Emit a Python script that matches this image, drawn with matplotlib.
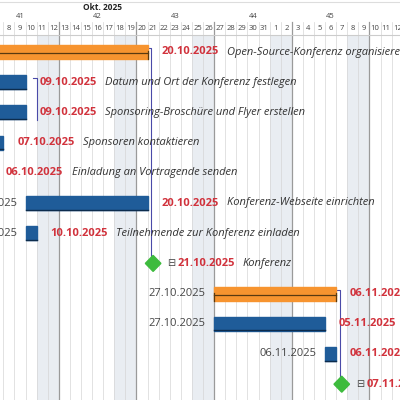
import matplotlib.pyplot as plt
from matplotlib.patches import Rectangle, Polygon
import datetime as dt

# task data (dates as strings, kind: summary / task / milestone)
names = ['Open-Source-Konferenz organisieren', 'Datum und Ort der Konferenz festlegen',
         'Sponsoring-Broschüre und Flyer erstellen', 'Sponsoren kontaktieren',
         'Einladung an Vortragende senden', 'Konferenz-Webseite einrichten',
         'Teilnehmende zur Konferenz einladen', 'Konferenz', '', '', '', '']
starts = ['2025-10-01', '2025-10-03', '2025-10-03', '2025-10-02', '2025-10-01', '2025-10-10',
          '2025-10-10', '2025-10-21', '2025-10-27', '2025-10-27', '2025-11-06', '2025-11-07']
ends = ['2025-10-20', '2025-10-09', '2025-10-09', '2025-10-07', '2025-10-06', '2025-10-20',
        '2025-10-10', '2025-10-21', '2025-11-06', '2025-11-05', '2025-11-06', '2025-11-07']
kinds = ['summary', 'task', 'task', 'task', 'task', 'task', 'task', 'milestone',
         'summary', 'task', 'task', 'milestone']
show_start = [False, False, False, False, False, True, True, False, True, True, True, False]
deps = [(0, 7), (8, 11)]

base = dt.date(2025, 10, 1)
def day(s):
    return (dt.date.fromisoformat(s) - base).days  # column [d, d+1)

def fmt(s):
    return dt.date.fromisoformat(s).strftime('%d.%m.%Y')

ORANGE = '#f7942f'
BLUE = '#1f5c99'
RED = '#d1323c'
GRAY = '#444444'
GREEN = '#3dbb3d'
DEP = '#4a4aa8'

fig = plt.figure(figsize=(4, 4), dpi=100)
ax = fig.add_axes([0, 0, 1, 1])
x0, x1 = 6.7, 42.75
ax.set_xlim(x0, x1)
ax.set_ylim(400, 0)
ax.axis('off')

# grid columns
for d in range(6, 43):
    date = base + dt.timedelta(days=d)
    if date.weekday() >= 5:
        ax.add_patch(Rectangle((d, 35), 1, 365, color='#e9edf2', lw=0, zorder=0))
    lw, col = (0.9, '#9a9a9a') if date.weekday() == 0 else (0.5, '#d6d6d6')
    ax.plot([d, d], [22, 400], color=col, lw=lw, zorder=1)
    ax.text(d + 0.5, 29, str(date.day), ha='center', va='center', fontsize=5.5,
            color=GRAY, family='Open Sans')
    if date.weekday() == 3:
        ax.text(d + 0.5, 17, str(date.isocalendar()[1]), ha='center', va='center',
                fontsize=5.5, color=GRAY, family='Open Sans')
ax.plot([x0, x1], [35, 35], color='#cccccc', lw=0.8)
ax.plot([x0, x1], [2, 2], color='#dddddd', lw=0.8)
ax.text(15.9, 7, 'Okt. 2025', ha='center', va='center', fontsize=6, weight='bold',
        color='#222222', family='Open Sans')

def rowy(i):
    return 52 + 30.2 * i

for i in range(len(names)):
    y = rowy(i)
    s, e = day(starts[i]), day(ends[i]) + 1
    if kinds[i] == 'milestone':
        m = day(starts[i]) + 0.5
        ax.add_patch(Polygon([(m - 0.7, y), (m, y - 8), (m + 0.7, y), (m, y + 8)],
                             closed=True, color=GREEN, zorder=4))
        xr = m + 1.3
        ax.text(xr, y, '⊟', ha='left', va='center', fontsize=7, color=GRAY, family='DejaVu Sans')
        xr += 0.9
    else:
        if kinds[i] == 'summary':
            ax.add_patch(Rectangle((s, y - 7), e - s, 14, color=ORANGE, zorder=3))
            ax.plot([s, e], [y + 1, y + 1], color='#5a3a10', lw=0.9, zorder=4)
            ax.plot([e, e], [y - 1, y + 7], color='#5a3a10', lw=0.9, zorder=4)
            ax.plot([s, s], [y - 1, y + 7], color='#5a3a10', lw=0.9, zorder=4)
        else:
            ax.add_patch(Rectangle((s, y - 7), e - s, 14, color=BLUE, zorder=3))
            ax.plot([s, e], [y + 6.5, y + 6.5], color='#0d2c4d', lw=1, zorder=4)
        xr = e + 1.25
        if show_start[i]:
            ax.text(s - 0.8, y, fmt(starts[i]), ha='right', va='center', fontsize=8,
                    color=GRAY, family='Open Sans')
    ax.text(xr, y, fmt(ends[i]), ha='left', va='center', fontsize=8, weight='bold',
            color=RED, family='Open Sans')
    ax.text(xr + 5.9, y, names[i], ha='left', va='center', fontsize=8, style='italic',
            color='#333333', family='Open Sans')

# dependency connectors
for a, b in deps:
    xe = day(ends[a]) + 1
    ax.plot([xe, xe + 0.3, xe + 0.3, day(starts[b]) + 0.5],
            [rowy(a) - 4, rowy(a) - 4, rowy(b), rowy(b)], color=DEP, lw=0.8, zorder=2)
ax.plot([9.7, 10.0, 10.0], [rowy(1) - 4, rowy(1) - 4, rowy(2) + 8], color=DEP, lw=0.8, zorder=2)

fig.savefig('out.png')
